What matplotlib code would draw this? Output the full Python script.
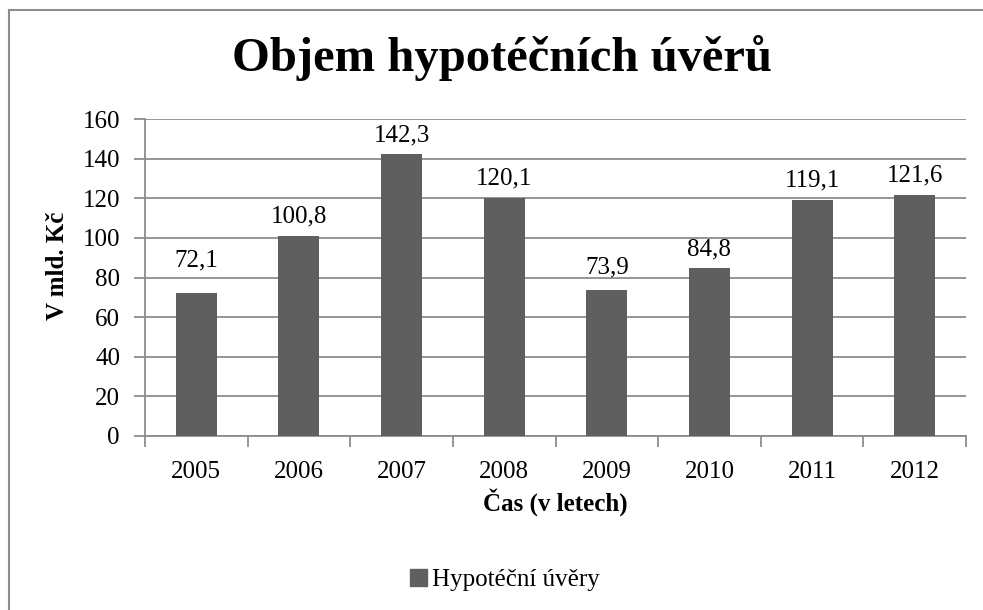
import matplotlib
matplotlib.use('Agg')
import matplotlib.pyplot as plt
from matplotlib.patches import Patch
from matplotlib.lines import Line2D

# data
years = ['2005', '2006', '2007', '2008', '2009', '2010', '2011', '2012']
volumes = [72.1, 100.8, 142.3, 120.1, 73.9, 84.8, 119.1, 121.6]
y_ticks = [0, 20, 40, 60, 80, 100, 120, 140, 160]

# gap (px) between bar top and label baseline
label_gap = [27, 14, 13, 14, 16, 13, 14, 14]

plt.rcParams['font.family'] = ['Liberation Serif', 'DejaVu Serif']

W, H = 983, 610
fig = plt.figure(figsize=(W / 100, H / 100), dpi=100, facecolor='white')

# chart border (only left and top visible, rest is cut off)
fig.add_artist(Line2D([8.5 / W, 8.5 / W], [0, 1 - 10 / H], transform=fig.transFigure,
                      color='#8c8c8c', lw=1.5))
fig.add_artist(Line2D([8.5 / W, 1], [1 - 10 / H, 1 - 10 / H], transform=fig.transFigure,
                      color='#8c8c8c', lw=1.5))

ax = fig.add_axes([145 / W, 1 - 436 / H, (966 - 145) / W, (436 - 119) / H])

x = list(range(len(years)))
bars = ax.bar(x, volumes, width=0.4, color='#5f5f5f', zorder=3)

for xi, v, g in zip(x, volumes, label_gap):
    ax.annotate(f'{v:.1f}'.replace('.', ','), (xi, v), xytext=(0, g),
                textcoords='offset pixels', ha='center', va='baseline',
                fontsize=18, color='black', annotation_clip=False)

ax.set_xlim(-0.5, len(years) - 0.5)
ax.set_ylim(0, 160)
ax.set_yticks(y_ticks)
ax.set_yticklabels([str(t) for t in y_ticks], fontsize=18)
ax.set_xticks(x)
ax.set_xticklabels(years, fontsize=18)
ax.tick_params(axis='x', length=0, pad=18)
ax.tick_params(axis='y', length=8, width=1.3, color='#8c8c8c', pad=10)

# category boundary ticks on x axis
ax.set_xticks([i - 0.5 for i in range(len(years) + 1)], minor=True)
ax.tick_params(axis='x', which='minor', length=8, width=1.3, color='#8c8c8c')

ax.grid(axis='y', color='#8c8c8c', lw=1.3, zorder=0)
for s in ['top', 'right']:
    ax.spines[s].set_visible(False)
for s in ['left', 'bottom']:
    ax.spines[s].set_color('#8c8c8c')
    ax.spines[s].set_linewidth(1.3)

fig.text(502 / W, 1 - 58 / H, 'Objem hypotéčních úvěrů', ha='center', va='center',
         fontsize=35, fontweight='bold')
fig.text(58 / W, 1 - 266 / H, 'V mld. Kč', ha='center', va='center', rotation=90,
         fontsize=18, fontweight='bold')
fig.text(555 / W, 1 - 502 / H, 'Čas (v letech)', ha='center', va='center',
         fontsize=18, fontweight='bold')

fig.legend(handles=[Patch(color='#5f5f5f', label='Hypotéční úvěry')],
           loc='center', bbox_to_anchor=(505 / W, 1 - 580 / H), frameon=False,
           fontsize=18, handlelength=0.7, handleheight=0.7, handletextpad=0.2)

fig.savefig('out.png', dpi=100, facecolor='white')
